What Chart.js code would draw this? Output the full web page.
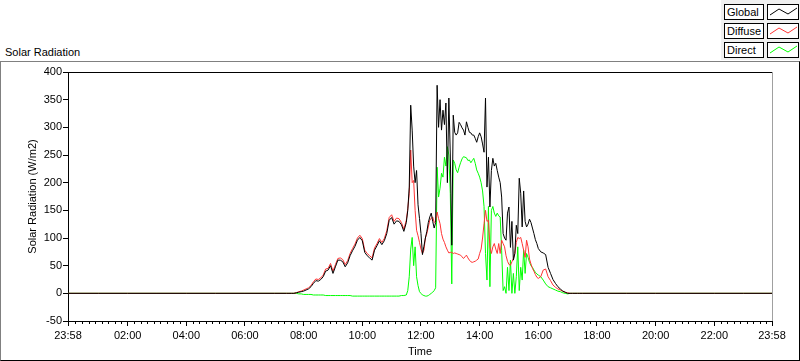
<!DOCTYPE html>
<html>
<head>
<meta charset="utf-8">
<script src="https://cdn.jsdelivr.net/npm/chart.js@4.4.0/dist/chart.umd.min.js"></script>
<style>
  html, body { margin: 0; padding: 0; background: #fff; }
  body { width: 800px; height: 361px; position: relative; overflow: hidden;
         font-family: "Liberation Sans", Arial, sans-serif; font-size: 11px; color: #000; }
  #frame { position: absolute; left: 0; top: 61px; width: 800px; height: 300px; box-sizing: border-box;
           border-top: 1px solid #808080; border-left: 1px solid #808080;
           border-right: 1px solid #000; border-bottom: 1px solid #000; }
  #title { position: absolute; left: 5px; top: 46px; }
  #legendBg { position: absolute; left: 721px; top: 0; width: 79px; height: 60px; background: #f0f0f0; }
  .lbl { position: absolute; left: 724px; width: 40px; height: 16px; box-sizing: border-box;
         border: 1px solid #000; background: #fff; padding-left: 2px; line-height: 14px; }
  .sw { position: absolute; left: 767px; width: 32px; height: 16px; box-sizing: border-box;
        border: 1px solid #000; background: #fff; }
  .sw svg { position: absolute; left: 0; top: 0; }
  canvas { position: absolute; left: 0; top: 0; }
</style>
</head>
<body>
<div id="frame"></div>
<div id="title">Solar Radiation</div>
<div id="legendBg"></div>
<div class="lbl" style="top:4px">Global</div>
<div class="sw" style="top:4px"><svg width="30" height="14"><polyline points="2,10 11,4 20,9 29,3" fill="none" stroke="#000" stroke-width="1"/></svg></div>
<div class="lbl" style="top:23px">Diffuse</div>
<div class="sw" style="top:23px"><svg width="30" height="14"><polyline points="2,10 11,4 20,9 29,3" fill="none" stroke="#ff3333" stroke-width="1"/></svg></div>
<div class="lbl" style="top:42px">Direct</div>
<div class="sw" style="top:42px"><svg width="30" height="14"><polyline points="2,10 11,4 20,9 29,3" fill="none" stroke="#00ff00" stroke-width="1"/></svg></div>
<canvas id="chart" width="800" height="361"></canvas>
<script>
// minutes since midnight (-2 = 23:58 the day before)
var minutes = [
  -2, 60, 120, 180, 240, 300, 360, 420, 445,
  450, 455, 460, 465, 470, 475, 480, 485, 490, 495, 500, 505, 510, 515, 520, 525, 530, 535, 540, 545,
  550, 555, 560, 565, 570, 575, 580, 585, 590, 595, 600, 605, 610, 615, 620, 625, 630, 635, 640, 645,
  650, 655, 660, 665, 670, 675, 680, 685, 690,
  693, 696, 699, 702, 705, 708, 711, 714, 717, 720, 723, 726, 729, 732, 735, 738, 741, 744, 747, 750,
  753, 756, 759, 762, 765, 768, 771, 774, 777, 780, 783, 786, 789, 792, 795, 798, 801, 804, 807, 810,
  813, 816, 819, 822, 825, 828, 831, 834, 837, 840, 843, 846, 849, 852, 855, 858, 861, 864, 867, 870,
  873, 876, 879, 882, 885, 888, 891, 894, 897, 900, 903, 906, 909, 912, 915, 918, 921, 924, 927, 930,
  933, 936, 939, 942, 945, 948, 951, 954, 957, 960,
  965, 970, 975, 980, 985, 990, 995, 1000, 1005, 1010, 1015, 1020, 1025, 1030, 1035, 1040, 1045, 1050,
  1080, 1140, 1200, 1260, 1320, 1380, 1438
];

var globalW = [
  0, 0, 0, 0, 0, 0, 0, 0, 0,
  0, 0, 0, 1, 2, 3, 4, 6, 8, 12, 18, 23, 22, 25, 30, 40, 42, 50, 36, 48,
  60, 60, 57, 48, 55, 68, 77, 85, 96, 101, 95, 74, 68, 64, 60, 78, 86, 95, 88, 95,
  108, 132, 137, 125, 131, 130, 124, 112, 128,
  150, 192, 340, 295, 230, 200, 222, 160, 135, 108, 70, 85, 100, 112, 128, 138, 145, 130, 118, 128,
  376, 300, 350, 295, 331, 305, 344, 200, 353, 250, 87, 322, 291, 286, 290, 309, 305, 299, 295, 286,
  310, 300, 291, 290, 286, 286, 280, 273, 283, 290, 283, 270, 255, 353, 192, 246, 156, 222, 244, 230,
  235, 222, 210, 200, 174, 108, 100, 96, 145, 156, 83, 130, 60, 72, 123, 108, 208, 181, 120, 185,
  130, 120, 125, 134, 128, 118, 108, 97, 90, 81,
  75, 73, 70, 47, 36, 25, 18, 12, 8, 4, 2, 0, 0, 0, 0, 0, 0, 0,
  0, 0, 0, 0, 0, 0, 0
];

var diffuseW = [
  0, 0, 0, 0, 0, 0, 0, 0, 0,
  0, 0, 0, 1, 3, 4, 6, 8, 10, 14, 21, 26, 25, 28, 33, 44, 45, 54, 40, 52,
  63, 64, 61, 52, 59, 72, 81, 89, 100, 105, 99, 78, 72, 68, 64, 82, 90, 99, 92, 99,
  113, 137, 142, 130, 136, 135, 128, 116, 132,
  153, 180, 259, 200, 204, 150, 114, 104, 92, 80, 72, 78, 100, 108, 120, 132, 136, 138, 128, 130,
  147, 135, 126, 108, 98, 92, 84, 78, 73, 74, 74, 72, 73, 72, 71, 70, 69, 66, 63, 66,
  69, 64, 60, 57, 56, 57, 58, 60, 62, 72, 80, 100, 126, 150, 130, 132, 84, 72, 84, 90,
  80, 72, 90, 72, 96, 90, 84, 68, 58, 52, 51, 57, 63, 72, 92, 101, 99, 101, 90, 78,
  65, 96, 84, 62, 53, 45, 40, 34, 29, 27,
  30, 42, 44, 30, 23, 15, 11, 8, 6, 4, 2, 1, 0, 0, 0, 0, 0, 0,
  0, 0, 0, 0, 0, 0, 0
];

var directW = [
  0, 0, 0, 0, 0, 0, 0, 0, 0,
  0, 0, 0, 0, -1, -1, -2, -2, -2, -2, -3, -3, -3, -3, -3, -4, -4, -4, -4, -4,
  -4, -4, -4, -4, -4, -4, -5, -5, -5, -5, -5, -5, -5, -5, -5, -5, -5, -5, -5, -5,
  -5, -5, -5, -5, -5, -5, -4, -4, -3,
  5, 30, 80, 101, 50, 84, 30, 14, 3, 0, -3, -4, -5, -5, -4, -2, 0, 2, 5, 10,
  228, 174, 190, 217, 210, 246, 230, 265, 250, 180, 17, 241, 235, 223, 218, 228, 236, 243, 247, 246,
  245, 240, 241, 236, 240, 244, 235, 223, 217, 210, 200, 185, 157, 72, 24, 157, 12, 150, 157, 145,
  139, 145, 140, 138, 78, 5, 12, 0, 47, 5, 60, 0, 36, 0, 30, 84, 5, 47, 24, 78,
  36, 72, 65, 56, 50, 47, 42, 38, 35, 33,
  30, 24, 17, 12, 10, 8, 6, 4, 3, 1, 0, -1, 0, 0, 0, 0, 0, 0,
  0, 0, 0, 0, 0, 0, 0
];

var yTicks = [-50, 0, 50, 100, 150, 200, 250, 300, 350, 400];
var xTickMinutes = [-2, 120, 240, 360, 480, 600, 720, 840, 960, 1080, 1200, 1320, 1438];
var xTickLabels = ['23:58', '02:00', '04:00', '06:00', '08:00', '10:00', '12:00', '14:00',
                   '16:00', '18:00', '20:00', '22:00', '23:58'];

function pts(vals) {
  return minutes.map(function (m, i) { return { x: m, y: vals[i] }; });
}

var font = { family: '"Liberation Sans", Arial, sans-serif', size: 11 };

// small ticks between the labelled ones + top/right edges of the plot
var plotExtras = {
  id: 'plotExtras',
  afterDraw: function (chart) {
    var ctx = chart.ctx, a = chart.chartArea, xs = chart.scales.x;
    ctx.save();
    ctx.lineWidth = 1;
    ctx.strokeStyle = '#000';
    ctx.beginPath();
    for (var k = -9; k <= 108; k++) {
      if (k % 9 === 0) continue;
      var m = 120 + k * 120 / 9;
      if (m < 5 || m > 1436) continue;
      var px = Math.round(xs.getPixelForValue(m)) + 0.5;
      ctx.moveTo(px, a.bottom);
      ctx.lineTo(px, a.bottom + 3);
    }
    ctx.moveTo(a.left, a.top + 0.5);
    ctx.lineTo(a.right, a.top + 0.5);
    ctx.stroke();
    ctx.strokeStyle = '#a0a0a0';
    ctx.beginPath();
    ctx.moveTo(a.right + 0.5, a.top);
    ctx.lineTo(a.right + 0.5, a.bottom);
    ctx.stroke();
    ctx.restore();
  }
};

new Chart(document.getElementById('chart'), {
  type: 'line',
  data: {
    datasets: [
      { label: 'Global', data: pts(globalW), borderColor: '#000000', borderWidth: 1, pointRadius: 0, tension: 0 },
      { label: 'Diffuse', data: pts(diffuseW), borderColor: '#ff3333', borderWidth: 1, pointRadius: 0, tension: 0 },
      { label: 'Direct', data: pts(directW), borderColor: '#00ff00', borderWidth: 1, pointRadius: 0, tension: 0 }
    ]
  },
  options: {
    responsive: false,
    animation: false,
    devicePixelRatio: 1,
    layout: { padding: { left: 0, top: 72, right: 28, bottom: 0 } },
    plugins: { legend: { display: false }, tooltip: { enabled: false } },
    scales: {
      x: {
        type: 'linear',
        min: -2,
        max: 1438,
        afterBuildTicks: function (s) { s.ticks = xTickMinutes.map(function (v) { return { value: v }; }); },
        afterFit: function (s) { s.height = 40; },
        grid: { drawOnChartArea: false, tickLength: 5, tickColor: '#000' },
        border: { color: '#000' },
        ticks: {
          color: '#000', font: font, padding: 3, maxRotation: 0, autoSkip: false,
          callback: function (v, i) { return xTickLabels[i]; }
        },
        title: { display: true, text: 'Time', color: '#000', font: font, padding: { top: 0, bottom: 2 } }
      },
      y: {
        min: -50,
        max: 400,
        afterBuildTicks: function (s) { s.ticks = yTicks.map(function (v) { return { value: v }; }); },
        afterFit: function (s) { s.width = 68; },
        grid: { drawOnChartArea: false, tickLength: 5, tickColor: '#000' },
        border: { color: '#000' },
        ticks: { color: '#000', font: font, padding: 1 },
        title: { display: true, text: 'Solar Radiation (W/m2)', color: '#000', font: font, padding: { top: 26, bottom: 0 } }
      }
    }
  },
  plugins: [plotExtras]
});
</script>
</body>
</html>
